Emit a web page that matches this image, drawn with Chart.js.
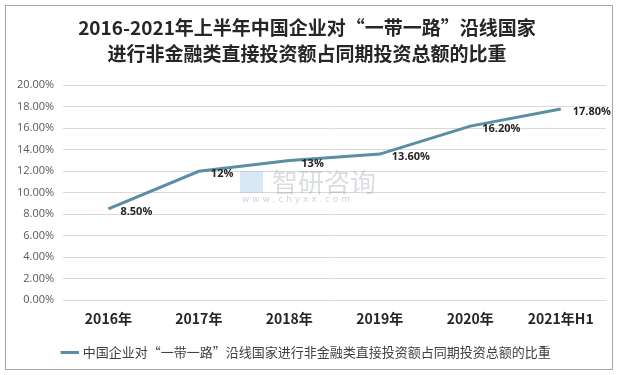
<!DOCTYPE html>
<html>
<head>
<meta charset="utf-8">
<script src="https://cdn.jsdelivr.net/npm/chart.js@4"></script>
<style>
  html, body { margin: 0; padding: 0; background: #fff; }
  #wrap { width: 618px; height: 375px; position: relative; }
</style>
</head>
<body>
<div id="wrap"><canvas id="lineChart" width="618" height="375"></canvas></div>
<script>
const years = ['2016年', '2017年', '2018年', '2019年', '2020年', '2021年H1'];
const shareValues = [8.5, 12, 13, 13.6, 16.2, 17.8];
const shareLabels = ['8.50%', '12%', '13%', '13.60%', '16.20%', '17.80%'];
const seriesName = '中国企业对“一带一路”沿线国家进行非金融类直接投资额占同期投资总额的比重';
const titleLines = ['2016-2021年上半年中国企业对“一带一路”沿线国家', '进行非金融类直接投资额占同期投资总额的比重'];

const cjk = '"Noto Sans CJK SC", "Microsoft YaHei", sans-serif';

// frame + watermark + value labels
const extras = {
  id: 'extras',
  beforeDraw(chart) {
    const c = chart.ctx;
    c.save();
    c.strokeStyle = '#a6a6a6';
    c.lineWidth = 1;
    c.strokeRect(5.5, 5.5, 607, 364);
    c.restore();
  },
  afterDatasetsDraw(chart) {
    const c = chart.ctx;
    c.save();
    // watermark
    c.fillStyle = 'rgba(150,160,170,0.35)';
    c.font = '26px ' + cjk;
    c.textAlign = 'left';
    c.textBaseline = 'middle';
    c.fillText('智研咨询', 272, 182);
    c.fillStyle = 'rgba(150,190,225,0.35)';
    c.fillRect(240, 171, 23, 22);
    c.fillStyle = 'rgba(150,160,170,0.45)';
    c.font = '9px "DejaVu Sans"';
    c.fillText('w w w . c h y x x . c o m', 242, 200);
    // value labels
    const meta = chart.getDatasetMeta(0);
    c.fillStyle = '#262626';
    c.font = 'bold 11px "Open Sans", "DejaVu Sans", sans-serif';
    meta.data.forEach((pt, i) => {
      c.fillText(shareLabels[i], pt.x + 12, pt.y + 3);
    });
    c.restore();
  }
};

new Chart(document.getElementById('lineChart').getContext('2d'), {
  type: 'line',
  data: {
    labels: years,
    datasets: [{
      label: seriesName,
      data: shareValues,
      borderColor: '#5a8ea6',
      backgroundColor: '#5a8ea6',
      borderWidth: 3,
      pointRadius: 0,
      tension: 0
    }]
  },
  options: {
    responsive: false,
    animation: false,
    layout: { padding: { left: 8, right: 12, top: 5, bottom: 6 } },
    plugins: {
      title: {
        display: true,
        text: titleLines,
        color: '#262626',
        font: { family: cjk, size: 19, weight: 'bold', lineHeight: 1.35 },
        padding: { top: 10, bottom: 19 }
      },
      legend: {
        position: 'bottom',
        labels: {
          usePointStyle: true,
          pointStyle: 'line',
          boxWidth: 22,
          color: '#404040',
          padding: 17,
          font: { family: cjk, size: 13 }
        }
      },
      tooltip: { enabled: false }
    },
    scales: {
      y: {
        min: 0,
        max: 20,
        border: { display: false },
        grid: { color: '#d9d9d9', drawTicks: false },
        ticks: {
          stepSize: 2,
          padding: 9,
          color: '#595959',
          font: { family: '"Open Sans", "DejaVu Sans", sans-serif', size: 11 },
          callback: v => v.toFixed(2) + '%'
        }
      },
      x: {
        offset: true,
        border: { display: false },
        grid: { display: false },
        ticks: {
          padding: 2,
          color: '#262626',
          maxRotation: 0,
          font: { family: cjk, size: 14, weight: 'bold' }
        }
      }
    }
  },
  plugins: [extras]
});
</script>
</body>
</html>
